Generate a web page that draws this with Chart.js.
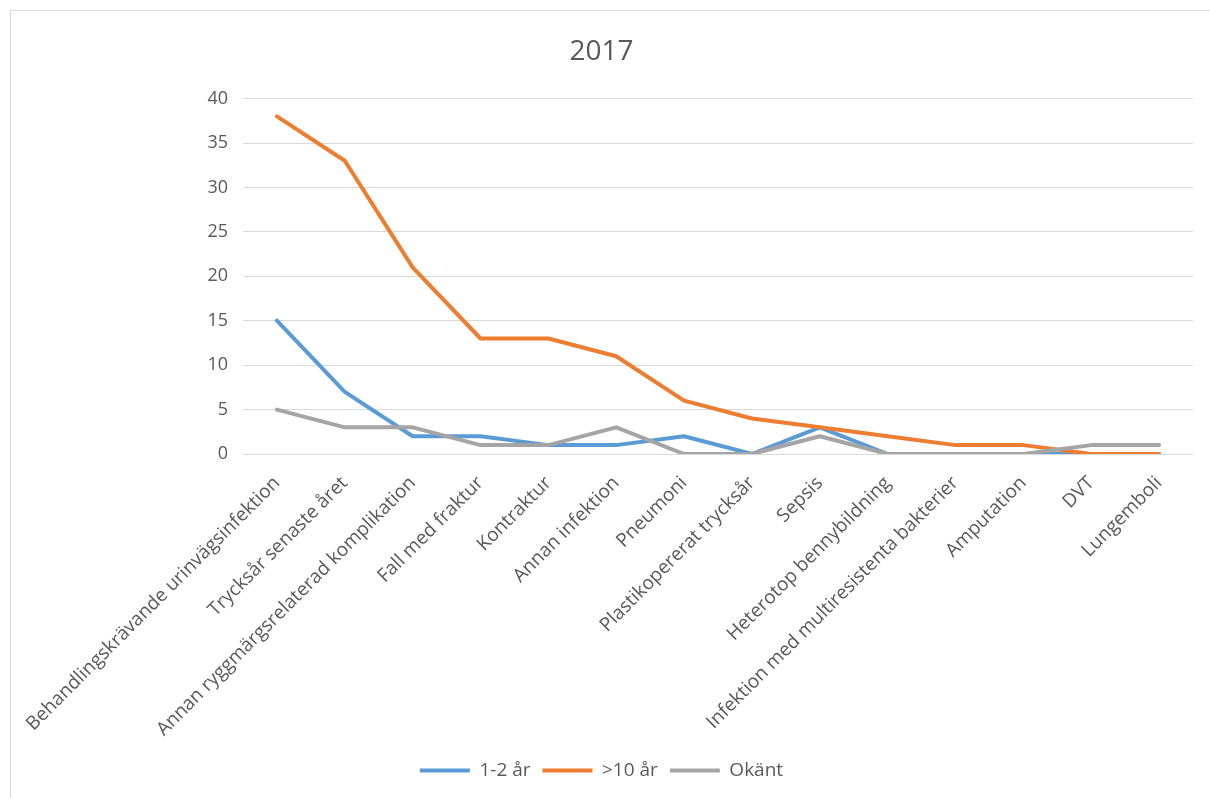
<!DOCTYPE html>
<html lang="sv">
<head>
<meta charset="utf-8">
<title>2017</title>
<script src="https://cdn.jsdelivr.net/npm/chart.js@4/dist/chart.umd.min.js"></script>
<style>
  html, body { margin: 0; padding: 0; background: #ffffff; }
  #wrap { position: relative; width: 1210px; height: 798px; overflow: hidden; }
  #frame { position: absolute; left: 10px; top: 10px; width: 1220px; height: 800px;
           border: 1px solid #d9d9d9; box-sizing: border-box; }
  #chart { position: absolute; left: 0; top: 0; }
</style>
</head>
<body>
<div id="wrap">
  <div id="frame"></div>
  <canvas id="chart" width="1210" height="798"></canvas>
</div>
<script>
// Komplikationer per kategori, 2017
const categories = [
  "Behandlingskrävande urinvägsinfektion",
  "Trycksår senaste året",
  "Annan ryggmärgsrelaterad komplikation",
  "Fall med fraktur",
  "Kontraktur",
  "Annan infektion",
  "Pneumoni",
  "Plastikopererat trycksår",
  "Sepsis",
  "Heterotop bennybildning",
  "Infektion med multiresistenta bakterier",
  "Amputation",
  "DVT",
  "Lungemboli"
];
const seriesNames = ["1-2 år", ">10 år", "Okänt"];
const values12 = [15, 7, 2, 2, 1, 1, 2, 0, 3, 0, 0, 0, 0, 0];
const valuesOver10 = [38, 33, 21, 13, 13, 11, 6, 4, 3, 2, 1, 1, 0, 0];
const valuesUnknown = [5, 3, 3, 1, 1, 3, 0, 0, 2, 0, 0, 0, 1, 1];
const yTicks = [0, 5, 10, 15, 20, 25, 30, 35, 40];

const FONT = "'Open Sans', 'Noto Sans', sans-serif";
const TEXT = "#595959";

function line(label, data, color, order) {
  return {
    label, data, order,
    borderColor: color, backgroundColor: color,
    borderWidth: 4, pointRadius: 0, pointHoverRadius: 0,
    tension: 0, fill: false,
    borderCapStyle: 'round', borderJoinStyle: 'round'
  };
}

new Chart(document.getElementById('chart'), {
  type: 'line',
  data: {
    labels: categories,
    datasets: [
      line(seriesNames[0], values12, '#5B9BD5', 3),
      line(seriesNames[1], valuesOver10, '#ED7D31', 2),
      line(seriesNames[2], valuesUnknown, '#A5A5A5', 1)
    ]
  },
  options: {
    responsive: false,
    animation: false,
    layout: { padding: { left: 10, right: 17, top: 10, bottom: 8 } },
    plugins: {
      title: {
        display: true, text: '2017', color: TEXT,
        font: { family: FONT, size: 28, weight: 'normal' },
        padding: { top: 25, bottom: 30 }
      },
      legend: {
        position: 'bottom',
        labels: {
          color: TEXT,
          font: { family: FONT, size: 19 },
          usePointStyle: true, pointStyle: 'line',
          pointStyleWidth: 50, boxHeight: 19, padding: 12,
          sort: (a, b) => a.datasetIndex - b.datasetIndex
        }
      },
      tooltip: { enabled: false }
    },
    scales: {
      x: {
        offset: true,
        grid: { display: false },
        border: { display: false },
        ticks: {
          color: TEXT, font: { family: FONT, size: 19 },
          minRotation: 45, maxRotation: 45, autoSkip: false, padding: 10
        },
        afterFit: s => { s.height = 295; }
      },
      y: {
        min: 0, max: 40,
        afterBuildTicks: s => { s.ticks = yTicks.map(v => ({ value: v })); },
        grid: { color: '#d9d9d9', lineWidth: 1, drawTicks: false },
        border: { display: false },
        ticks: { color: TEXT, font: { family: FONT, size: 18 }, padding: 15 },
        afterFit: s => { s.width = 233; }
      }
    }
  }
});
</script>
</body>
</html>
